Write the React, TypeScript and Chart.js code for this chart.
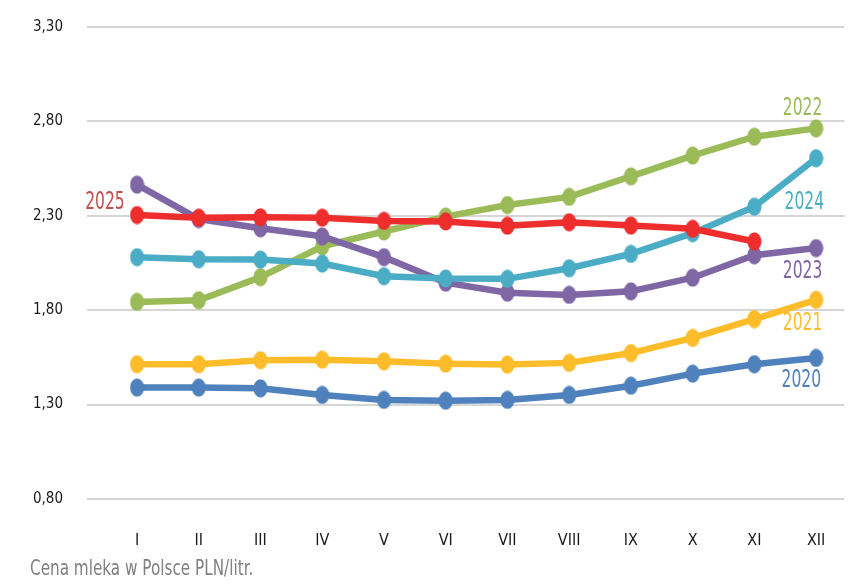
import React, { useEffect, useRef } from "react";
import { Chart, registerables } from "chart.js";

Chart.register(...registerables);

const months = ["I", "II", "III", "IV", "V", "VI", "VII", "VIII", "IX", "X", "XI", "XII"];
const yearLabels = ["2025", "2024", "2023", "2022", "2021", "2020"];

const v2020 = [1.39, 1.39, 1.386, 1.351, 1.325, 1.321, 1.325, 1.351, 1.4, 1.464, 1.514, 1.547];
const v2021 = [1.514, 1.514, 1.535, 1.538, 1.529, 1.517, 1.512, 1.521, 1.573, 1.653, 1.753, 1.855];
const v2022 = [1.844, 1.853, 1.975, 2.138, 2.217, 2.296, 2.357, 2.4, 2.509, 2.619, 2.719, 2.763];
const v2023 = [2.465, 2.283, 2.234, 2.191, 2.081, 1.946, 1.893, 1.881, 1.9, 1.972, 2.091, 2.129];
const v2024 = [2.081, 2.07, 2.068, 2.047, 1.98, 1.968, 1.966, 2.022, 2.098, 2.208, 2.348, 2.605];
const v2025 = [2.304, 2.29, 2.292, 2.29, 2.273, 2.27, 2.247, 2.266, 2.248, 2.231, 2.164, null];

const seriesValues = [v2025, v2024, v2023, v2022, v2021, v2020];
const lineColors = ["#ee2d2d", "#4bacc6", "#7f66a5", "#9bbb59", "#fdbd2a", "#4f81bd"];
const labelColors = ["#c0504d", "#4bacc6", "#7f66a5", "#9bbb59", "#fdbd2a", "#4f81bd"];

// label anchors in data space: [month index, value]
const labelAnchors: [number, number][] = [
  [-0.52, 2.368],
  [10.81, 2.371],
  [10.78, 2.006],
  [10.78, 2.866],
  [10.78, 1.726],
  [10.76, 1.426],
];

const yMin = 0.8;
const yMax = 3.3;
const yStep = 0.5;
const xMin = -0.81;
const xMax = 11.46;

const caption = "Cena mleka w Polsce PLN/litr.";

const FONT = '"DejaVu Sans Condensed", "Liberation Sans Narrow", "Open Sans", sans-serif';

function ellipseMarker(color: string) {
  const w = 15;
  const h = 19;
  const c = document.createElement("canvas");
  c.width = w * 2;
  c.height = h * 2;
  const ctx = c.getContext("2d")!;
  ctx.fillStyle = color;
  ctx.beginPath();
  ctx.ellipse(w, h, w - 1, h - 1, 0, 0, Math.PI * 2);
  ctx.fill();
  const img = document.createElement("canvas");
  img.width = w;
  img.height = h;
  const ictx = img.getContext("2d")!;
  ictx.drawImage(c, 0, 0, w, h);
  return img;
}

export default function App() {
  const ref = useRef<HTMLCanvasElement | null>(null);

  useEffect(() => {
    if (!ref.current) return;
    const labelPlugin = {
      id: "seriesLabels",
      afterDatasetsDraw(chart: any) {
        const ctx = chart.ctx;
        const xs = chart.scales.x;
        const ys = chart.scales.y;
        ctx.save();
        ctx.font = `24px ${FONT}`;
        ctx.textAlign = "center";
        ctx.textBaseline = "middle";
        yearLabels.forEach((t, i) => {
          const [xi, yv] = labelAnchors[i];
          ctx.save();
          ctx.translate(xs.getPixelForValue(xi), ys.getPixelForValue(yv));
          ctx.scale(0.72, 1);
          ctx.fillStyle = labelColors[i];
          ctx.fillText(t, 0, 0);
          ctx.restore();
        });
        ctx.restore();
      },
    };

    const chart = new Chart(ref.current, {
      type: "line",
      data: {
        datasets: yearLabels.map((y, i) => ({
          label: y,
          data: seriesValues[i]
            .map((v, j) => (v === null ? null : { x: j, y: v }))
            .filter((p) => p !== null) as any,
          borderColor: lineColors[i],
          backgroundColor: lineColors[i],
          pointStyle: ellipseMarker(lineColors[i]) as any,
          pointRadius: 9,
          pointHoverRadius: 9,
          borderWidth: 6.5,
          tension: 0,
          fill: false,
        })),
      },
      options: {
        animation: false,
        responsive: true,
        maintainAspectRatio: false,
        layout: { padding: { top: 27, right: 13, left: 0, bottom: 0 } },
        plugins: {
          legend: { display: false },
          tooltip: { enabled: false },
        },
        scales: {
          x: {
            type: "linear",
            min: xMin,
            max: xMax,
            grid: { display: false, drawTicks: false },
            border: { display: false },
            afterBuildTicks: (scale: any) => {
              scale.ticks = months.map((_, i) => ({ value: i }));
            },
            afterFit: (scale: any) => {
              scale.height = 85;
              scale.paddingLeft = 0;
              scale.paddingRight = 0;
            },
            ticks: {
              padding: 32,
              color: "#1a1a1a",
              font: { family: FONT, size: 16 },
              maxRotation: 0,
              autoSkip: false,
              callback: (v: any) => months[v as number] ?? "",
            },
          },
          y: {
            min: yMin,
            max: yMax,
            grid: { color: "#d6d6d6", lineWidth: 2, drawTicks: false },
            border: { display: false },
            afterFit: (scale: any) => {
              scale.width = 87;
              scale.paddingTop = 0;
              scale.paddingBottom = 0;
            },
            ticks: {
              stepSize: yStep,
              padding: 24,
              color: "#1a1a1a",
              font: { family: FONT, size: 15 },
              callback: (v: any) => Number(v).toFixed(2).replace(".", ","),
            },
          },
        },
      },
      plugins: [labelPlugin],
    });
    return () => chart.destroy();
  }, []);

  return (
    <div style={{ position: "absolute", left: 0, top: 0, width: 860, height: 584, background: "#fff" }}>
      <div style={{ position: "absolute", left: 0, top: 0, width: 860, height: 584 }}>
        <canvas ref={ref} />
      </div>
      <div
        style={{
          position: "absolute",
          left: 30,
          top: 554,
          fontFamily: FONT,
          fontSize: 22,
          lineHeight: "28px",
          color: "#808080",
          whiteSpace: "nowrap",
          transform: "scaleX(0.77)",
          transformOrigin: "left center",
        }}
      >
        {caption}
      </div>
    </div>
  );
}
